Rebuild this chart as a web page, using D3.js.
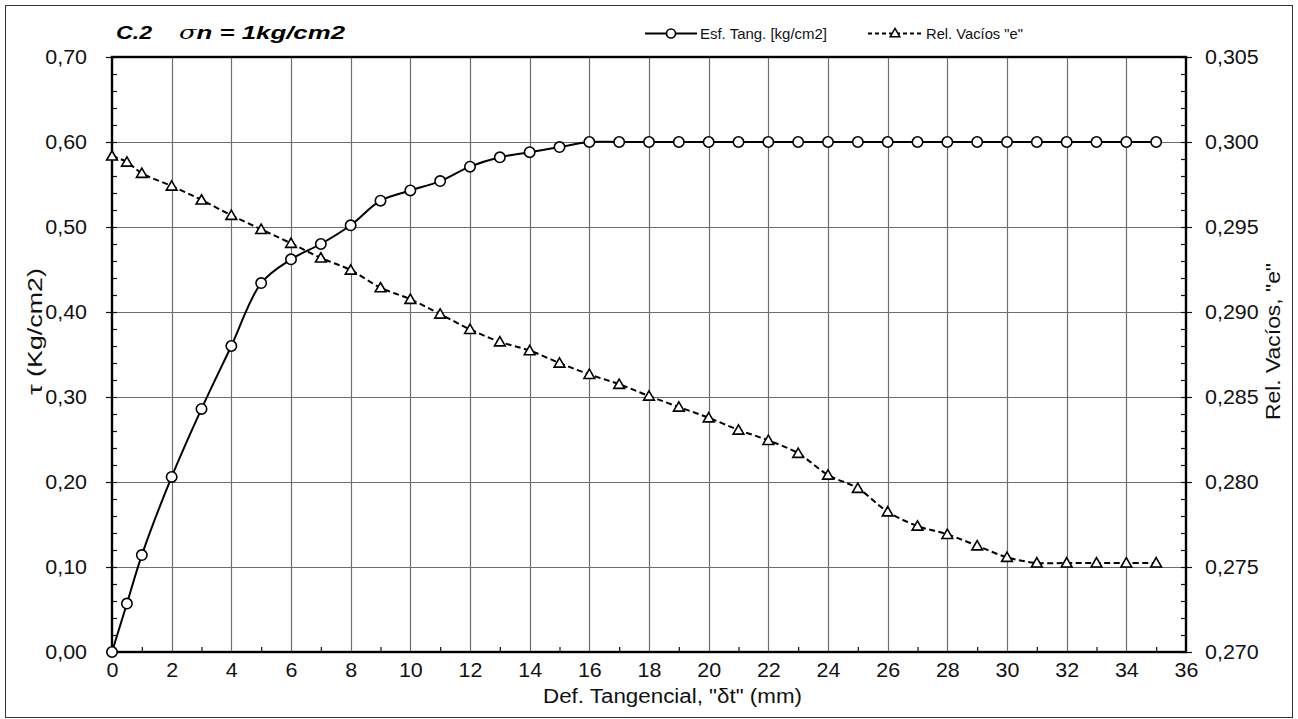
<!DOCTYPE html>
<html>
<head>
<meta charset="utf-8">
<script src="https://cdn.jsdelivr.net/npm/d3@7"></script>
<style>
  html, body { margin: 0; padding: 0; background: #fff; }
  svg { display: block; font-family: "Liberation Sans", Arial, sans-serif; }
</style>
</head>
<body>
<svg id="chart" width="1298" height="719"></svg>
<script>
// Shear test C.2 — tangential deformation (mm)
const deformacion = [0, 0.5, 1, 2, 3, 4, 5, 6, 7, 8, 9, 10, 11, 12, 13, 14, 15, 16, 17, 18,
  19, 20, 21, 22, 23, 24, 25, 26, 27, 28, 29, 30, 31, 32, 33, 34, 35];

// Shear stress τ (kg/cm2)
const esfTang = [0.000, 0.057, 0.114, 0.206, 0.286, 0.360, 0.434, 0.462, 0.480, 0.502,
  0.531, 0.543, 0.554, 0.571, 0.582, 0.588, 0.594, 0.600, 0.600, 0.600,
  0.600, 0.600, 0.600, 0.600, 0.600, 0.600, 0.600, 0.600, 0.600, 0.600,
  0.600, 0.600, 0.600, 0.600, 0.600, 0.600, 0.600];

// Void ratio "e"
const relVacios = [0.29918, 0.29882, 0.29816, 0.29741, 0.29659, 0.29569, 0.29486, 0.29404,
  0.29318, 0.29247, 0.29143, 0.29075, 0.28988, 0.28898, 0.28825, 0.28773,
  0.28700, 0.28633, 0.28575, 0.28506, 0.28441, 0.28378, 0.28306, 0.28245,
  0.28169, 0.28041, 0.27963, 0.27825, 0.27741, 0.27692, 0.27625, 0.27557,
  0.27524, 0.27524, 0.27524, 0.27524, 0.27524];

// Axis ticks
const xTicks = d3.range(0, 37, 2);
const xMinor = d3.range(1, 36, 2);
const yLeftTicks = [0, 0.1, 0.2, 0.3, 0.4, 0.5, 0.6, 0.7];
const yLeftMinor = d3.range(0, 0.7001, 0.02);
const yRightTicks = [0.270, 0.275, 0.280, 0.285, 0.290, 0.295, 0.300, 0.305];
const yRightMinor = d3.range(0.270, 0.30501, 0.001);

const svg = d3.select("#chart");
const plot = { left: 112, right: 1186, top: 57, bottom: 652 };

const x = d3.scaleLinear().domain([0, 36]).range([plot.left, plot.right]);
const yL = d3.scaleLinear().domain([0, 0.7]).range([plot.bottom, plot.top]);
const yR = d3.scaleLinear().domain([0.270, 0.305]).range([plot.bottom, plot.top]);

const comma = f => v => d3.format(f)(v).replace(".", ",");

// Outer frame
svg.append("rect").attr("x", 5.5).attr("y", 5.5).attr("width", 1287).attr("height", 712)
  .attr("fill", "#fff").attr("stroke", "#333").attr("stroke-width", 1);

// Gridlines
const grid = svg.append("g").attr("stroke", "#6e6e6e").attr("stroke-width", 1.2);
grid.selectAll("line.v").data(xTicks.slice(1, -1)).join("line")
  .attr("x1", d => Math.round(x(d)) + 0.5).attr("x2", d => Math.round(x(d)) + 0.5)
  .attr("y1", plot.top).attr("y2", plot.bottom);
grid.selectAll("line.h").data(yLeftTicks.slice(1, -1)).join("line")
  .attr("y1", d => Math.round(yL(d)) + 0.5).attr("y2", d => Math.round(yL(d)) + 0.5)
  .attr("x1", plot.left).attr("x2", plot.right);

// Tick labels: slightly widened Arial-style glyphs
const axisFont = g => g.selectAll("text")
  .attr("font-size", 19.5)
  .attr("font-family", "'Liberation Sans', Arial, sans-serif")
  .attr("fill", "#111")
  .each(function () {
    const t = d3.select(this);
    const tx = +t.attr("x") || 0;
    t.attr("x", 0).attr("transform", `translate(${tx},0) scale(1.1,1)`);
  });

svg.append("g").attr("transform", `translate(0,${plot.bottom})`)
  .call(d3.axisTop(x).tickValues(xMinor).tickSize(5).tickFormat(""));
const gx = svg.append("g").attr("transform", `translate(0,${plot.bottom})`)
  .call(d3.axisBottom(x).tickValues(xTicks).tickSize(0).tickPadding(11).tickFormat(d3.format("d")));
gx.call(axisFont);

svg.append("g").attr("transform", `translate(${plot.left},0)`)
  .call(d3.axisRight(yL).tickValues(yLeftMinor).tickSize(5).tickFormat(""));
const gyL = svg.append("g").attr("transform", `translate(${plot.left},0)`)
  .call(d3.axisLeft(yL).tickValues(yLeftTicks).tickSize(6).tickPadding(19).tickFormat(comma(".2f")));
gyL.call(axisFont);

svg.append("g").attr("transform", `translate(${plot.right},0)`)
  .call(d3.axisLeft(yR).tickValues(yRightMinor).tickSize(5).tickFormat(""));
const gyR = svg.append("g").attr("transform", `translate(${plot.right},0)`)
  .call(d3.axisRight(yR).tickValues(yRightTicks).tickSize(6).tickPadding(13).tickFormat(comma(".3f")));
gyR.call(axisFont);

svg.selectAll(".domain").remove();
svg.selectAll(".tick line").attr("stroke", "#111").attr("stroke-width", 1.2);

// Plot border (axis lines)
svg.append("rect").attr("x", plot.left).attr("y", plot.top)
  .attr("width", plot.right - plot.left).attr("height", plot.bottom - plot.top)
  .attr("fill", "none").attr("stroke", "#000").attr("stroke-width", 2.4);

// Series
const ptsT = deformacion.map((d, i) => [x(d), yL(esfTang[i])]);
const ptsE = deformacion.map((d, i) => [x(d), yR(relVacios[i])]);
const curve = d3.line().curve(d3.curveCatmullRom.alpha(0.5));

svg.append("path").attr("d", curve(ptsE)).attr("fill", "none")
  .attr("stroke", "#000").attr("stroke-width", 2).attr("stroke-dasharray", "6,3.5");
svg.append("path").attr("d", curve(ptsT)).attr("fill", "none")
  .attr("stroke", "#000").attr("stroke-width", 2);

const tri = d3.symbol().type(d3.symbolTriangle).size(50);
svg.append("g").selectAll("path").data(ptsE).join("path")
  .attr("d", tri).attr("transform", d => `translate(${d[0]},${d[1] + 1})`)
  .attr("fill", "#fff").attr("stroke", "#000").attr("stroke-width", 1.6);

svg.append("g").selectAll("circle").data(ptsT).join("circle")
  .attr("cx", d => d[0]).attr("cy", d => d[1]).attr("r", 5.2)
  .attr("fill", "#fff").attr("stroke", "#000").attr("stroke-width", 1.6);

// Title
svg.append("text").attr("x", 116).attr("y", 39)
  .attr("font-size", 19).attr("font-weight", "bold").attr("font-style", "italic")
  .attr("textLength", 36).attr("lengthAdjust", "spacingAndGlyphs")
  .attr("fill", "#000").text("C.2");
const title2 = svg.append("text").attr("x", 179).attr("y", 39)
  .attr("font-size", 19).attr("font-weight", "bold").attr("font-style", "italic")
  .attr("textLength", 166).attr("lengthAdjust", "spacingAndGlyphs").attr("fill", "#000");
title2.append("tspan").attr("font-family", "'DejaVu Serif', serif")
  .attr("font-weight", "normal").text("σ");
title2.append("tspan").text("n = 1kg/cm2");

// Axis titles
svg.append("text").attr("x", 543).attr("y", 703)
  .attr("textLength", 259).attr("lengthAdjust", "spacingAndGlyphs")
  .attr("font-size", 19.5).attr("fill", "#111").text("Def. Tangencial, \"δt\" (mm)");

svg.append("text").attr("transform", "translate(42,395) rotate(-90)")
  .attr("textLength", 127).attr("lengthAdjust", "spacingAndGlyphs")
  .attr("font-size", 19.5).attr("fill", "#111").text("τ  (Kg/cm2)");

svg.append("text").attr("transform", "translate(1280,420) rotate(-90)")
  .attr("textLength", 157).attr("lengthAdjust", "spacingAndGlyphs")
  .attr("font-size", 19.5).attr("fill", "#111").text("Rel. Vacíos,   \"e\"");

// Legend
const leg = svg.append("g");
leg.append("line").attr("x1", 645).attr("x2", 697).attr("y1", 33.5).attr("y2", 33.5)
  .attr("stroke", "#000").attr("stroke-width", 2);
leg.append("circle").attr("cx", 671).attr("cy", 33.5).attr("r", 4.5)
  .attr("fill", "#fff").attr("stroke", "#000").attr("stroke-width", 1.6);
leg.append("text").attr("x", 700).attr("y", 38.5).attr("font-size", 14.5).attr("fill", "#111")
  .attr("textLength", 127).attr("lengthAdjust", "spacingAndGlyphs")
  .text("Esf. Tang. [kg/cm2]");

leg.append("line").attr("x1", 868).attr("x2", 922).attr("y1", 33.5).attr("y2", 33.5)
  .attr("stroke", "#000").attr("stroke-width", 2).attr("stroke-dasharray", "4,3");
leg.append("path").attr("d", tri.size(40)).attr("transform", "translate(895,34)")
  .attr("fill", "#fff").attr("stroke", "#000").attr("stroke-width", 1.5);
leg.append("text").attr("x", 926).attr("y", 38.5).attr("font-size", 14.5).attr("fill", "#111")
  .attr("textLength", 97).attr("lengthAdjust", "spacingAndGlyphs")
  .text("Rel. Vacíos \"e\"");
</script>
</body>
</html>
